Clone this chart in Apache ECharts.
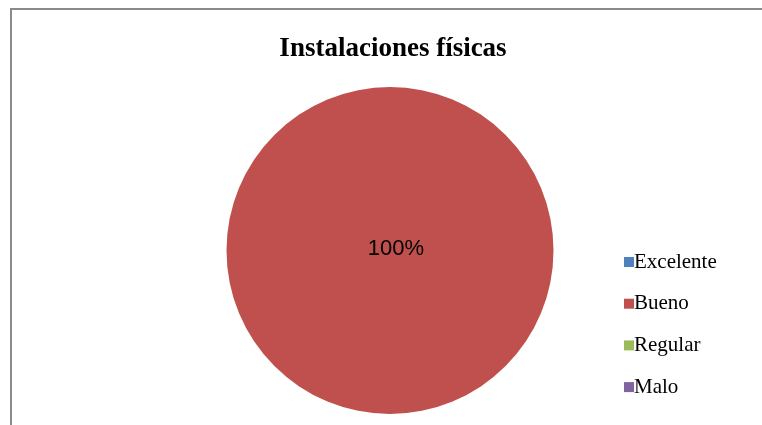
<!DOCTYPE html>
<html>
<head>
<meta charset="utf-8">
<script src="https://cdn.jsdelivr.net/npm/echarts@6/dist/echarts.min.js"></script>
<style>
  html, body { margin: 0; padding: 0; background: #fff; }
  #chart { width: 762px; height: 425px; }
</style>
</head>
<body>
<div id="chart"></div>
<script>
// Survey ratings of the physical facilities
const categories = ['Excelente', 'Bueno', 'Regular', 'Malo'];
const values = [0, 100, 0, 0];
const colors = ['#4F81BD', '#C0504D', '#9BBB59', '#8064A2'];

const total = values.reduce((a, b) => a + b, 0);
const pieData = categories.map((name, i) => ({
  name: name,
  value: values[i],
  label: { show: values[i] > 0 }
}));

const chart = echarts.init(document.getElementById('chart'));
chart.setOption({
  animation: false,
  backgroundColor: '#ffffff',
  color: colors,
  title: {
    text: 'Instalaciones físicas',
    left: 388,
    textAlign: 'center',
    top: 31,
    textStyle: {
      fontFamily: '"Liberation Serif", "Times New Roman", serif',
      fontSize: 27,
      fontWeight: 'bold',
      color: '#000'
    }
  },
  legend: {
    orient: 'vertical',
    left: 619,
    top: 245,
    icon: 'rect',
    itemWidth: 10,
    itemHeight: 10,
    itemGap: 17.7,
    selectedMode: false,
    data: categories,
    textStyle: {
      fontFamily: '"Liberation Serif", "Times New Roman", serif',
      fontSize: 21,
      lineHeight: 24,
      color: '#000',
      padding: [0, 0, 0, -5]
    }
  },
  graphic: [
    {
      type: 'polyline',
      shape: { points: [[11, 425], [11, 9], [762, 9]] },
      style: { stroke: '#8a8a8a', lineWidth: 2, fill: null },
      silent: true
    }
  ],
  series: [
    {
      type: 'pie',
      center: [390, 250.5],
      radius: 163.5,
      startAngle: 90,
      clockwise: true,
      avoidLabelOverlap: false,
      itemStyle: { borderWidth: 0 },
      emphasis: { disabled: true },
      labelLine: { show: false },
      label: {
        position: 'center',
        offset: [6, -2],
        formatter: p => Math.round(p.value / total * 100) + '%',
        fontFamily: '"Liberation Sans", Arial, sans-serif',
        fontSize: 22,
        color: '#000'
      },
      data: pieData
    }
  ]
});
</script>
</body>
</html>
